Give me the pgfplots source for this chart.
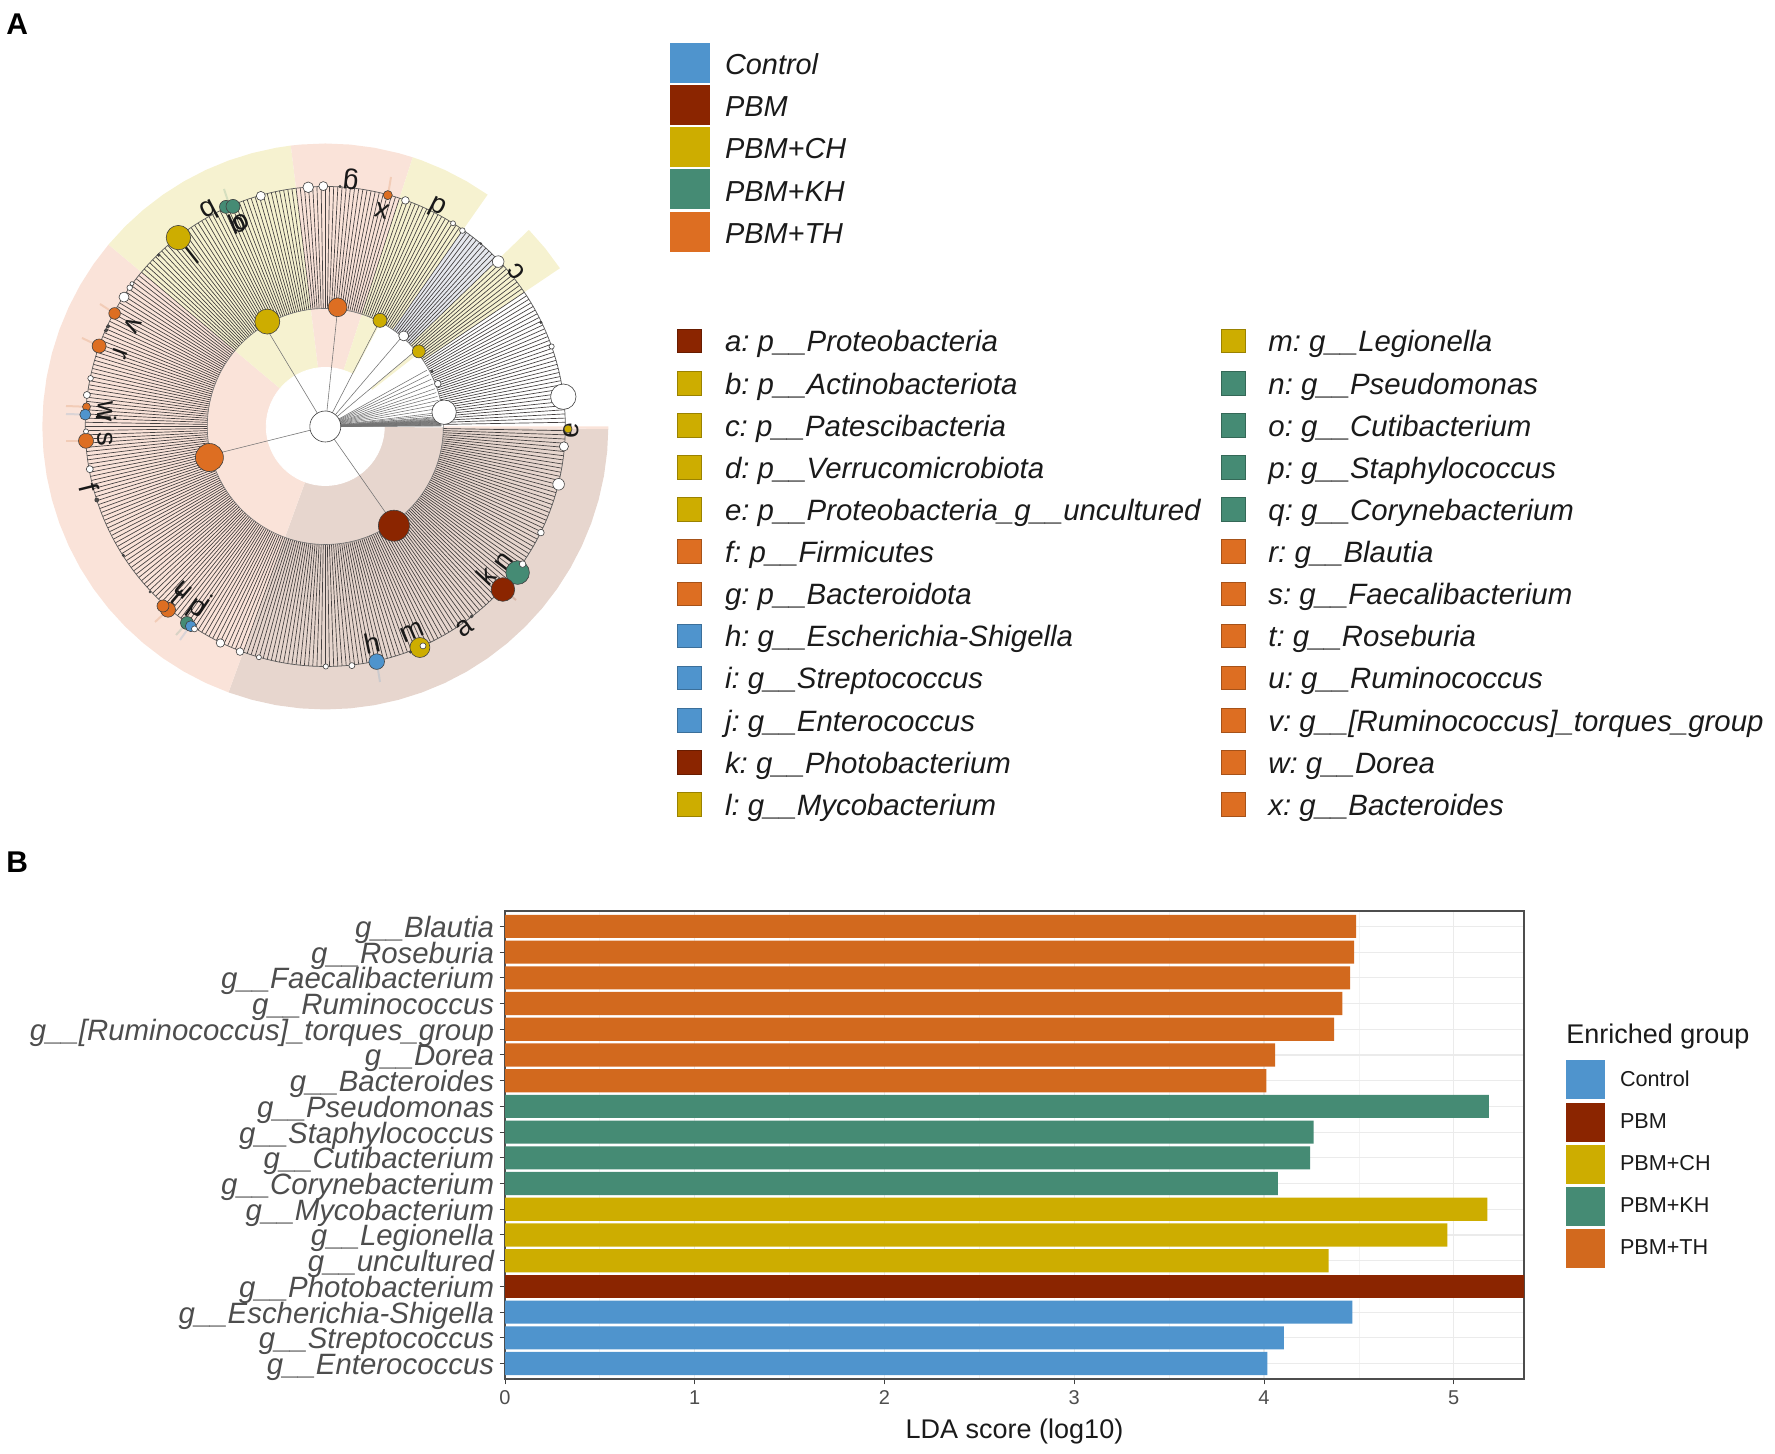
\documentclass[border=0pt]{standalone}
\usepackage{fontspec}
\setmainfont{Liberation Sans}
\usepackage{pgfplots}
\usepackage{pgfplotstable}
\usepgfplotslibrary{polar}
\pgfplotsset{compat=1.18}

\definecolor{cCtl}{HTML}{4F94CD}
\definecolor{cPbm}{HTML}{8B2500}
\definecolor{cCh}{HTML}{CDAD00}
\definecolor{cKh}{HTML}{458B74}
\definecolor{cTh}{HTML}{D2691E}
\definecolor{cOr}{HTML}{DD6E22}
\definecolor{wPbm}{HTML}{E7D6CE}
\definecolor{wTh}{HTML}{FAE3D9}
\definecolor{wCh}{HTML}{F6F2D0}
\definecolor{wGr}{HTML}{E6E8EE}
\definecolor{fanc}{HTML}{444040}
\definecolor{lab}{HTML}{4D4D4D}
\definecolor{gridc}{HTML}{EBEBEB}
\definecolor{txt}{HTML}{1A1A1A}

% cladogram nodes, reference pixels: x y radius
\pgfplotstableread{
x y r
86.5 406.8 4
99.1 346 7
114.6 313.4 5.8
168 609.7 7.5
163 606 6
86 440.8 7.5
209.4 457.5 14
337.6 307.3 9.4
387.8 195.1 4.5
}\ndTh
\pgfplotstableread{
x y r
178.4 237.6 12.2
267.3 321.6 12.5
380 320.4 7
418.8 351.4 6.5
419.9 647.5 10
568 429 4
}\ndCh
\pgfplotstableread{
x y r
226 206.9 6.5
233 206.4 7
517.6 572.6 11.8
187 623 6.5
}\ndKh
\pgfplotstableread{
x y r
376.7 661.6 7.8
190.8 626.2 5.5
85.3 414.6 5.5
}\ndCtl
\pgfplotstableread{
x y r
502.9 589.5 11.8
393.9 525.7 15.5
}\ndPbm
\pgfplotstableread{
x y r
325.3 426.5 15.5
403.7 335.9 5
437.8 383.7 3.3
444.1 412.2 12.2
260.8 195.9 4.5
308.2 187.3 5.3
323.3 186.1 4.5
405.4 200.4 3.8
453 223.3 2.5
462.4 230.6 2.8
498.2 261.6 5.8
551.6 346.5 2.6
563.3 396.7 12.7
563.9 446.4 4.6
558.6 484.3 5.8
540.9 532.6 3.3
522.6 564.1 3.3
423 645.9 3
351.9 665.6 3
325.8 666.5 2.6
258.9 657.3 2.5
240 651.6 3.8
220.4 643 4.2
194.5 628.9 3
89.8 469.2 3.5
86 431.4 2.5
86.9 395 3.5
90.6 378.3 2.8
124 297.1 5
129.7 287.7 2.8
132 283.6 2
}\ndWhite
\pgfplotstableread{
x y r
432 371.4 1.2
340 186.5 1.2
480.8 243.6 1
540.9 322.4 1.2
471.6 616.4 1.5
410.5 652 1.2
150 592 1
123.4 555.4 1.2
96.8 500 2
106 330.5 1.8
108.1 326.4 1.8
158.7 255 1.5
}\ndTiny

\pgfplotsset{
  wedge/.style={draw=none,fill=#1,data cs=polar},
  fan/.style={fanc,line width=0.34pt,data cs=polar},
  hub/.style={black!55,line width=0.28pt,data cs=polar},
  nodeset/.style={scatter,only marks,mark=*,
    scatter/use mapped color={draw=black!75,fill=#1,line width=0.3pt},
    visualization depends on={0.5*\thisrow{r} \as \ptr},
    scatter/@pre marker code/.append style={/tikz/mark size=\ptr}},
  big/.style={only marks,mark=square*,mark size=9.75pt,mark options={draw=#1,fill=#1}},
  small/.style={only marks,mark=square*,mark size=5.9pt,mark options={fill=#1,draw=#1!75!black,line width=0.3pt}},
  stub/.style={#1,opacity=0.18,line width=1pt},
  lg/.style={legend image code/.code={\fill[fill=#1] (0pt,-9.75pt) rectangle (19.5pt,9.75pt);}},
}
\tikzset{
  taxa/.style={anchor=base west,inner sep=0pt,text=txt,font=\fontsize{14.7}{17}\selectfont\itshape\frenchspacing},
  grp/.style={anchor=base west,inner sep=0pt,text=txt,font=\fontsize{14.45}{17}\selectfont\itshape},
  lett/.style={inner sep=0pt,text=black!90,font=\fontsize{14}{16}\selectfont},
}

\begin{document}
\begin{tikzpicture}
\useasboundingbox (0,0) rectangle (887.5pt,727pt);

% panel A shading, polar data about the cladogram centre
\begin{axis}[at={(0,0)},anchor=south west,x=0.5pt,y=0.5pt,
  xmin=-325.3,xmax=1449.7,ymin=-1027.5,ymax=426.5,hide axis,clip=false]
\addplot[wedge=wPbm] coordinates {(250,0)(250,283)(255,283)(260,283)(265,283)(270,283)(275,283)(280,283)(285,283)(290,283)(295,283)(300,283)(305,283)(310,283)(315,283)(320,283)(325,283)(330,283)(335,283)(340,283)(345,283)(350,283)(355,283)(359.5,283)} -- cycle;
\addplot[wedge=wTh] coordinates {(140,0)(140,283)(145,283)(150,283)(155,283)(160,283)(165,283)(170,283)(175,283)(180,283)(185,283)(190,283)(195,283)(200,283)(205,283)(210,283)(215,283)(220,283)(225,283)(230,283)(235,283)(240,283)(245,283)(250,283)} -- cycle;
\addplot[wedge=wCh] coordinates {(97,0)(97,283)(100,283)(105,283)(110,283)(115,283)(120,283)(125,283)(130,283)(135,283)(140,283)} -- cycle;
\addplot[wedge=wTh] coordinates {(72,0)(72,283)(75,283)(80,283)(85,283)(90,283)(95,283)(97,283)} -- cycle;
\addplot[wedge=wCh] coordinates {(55,118)(55,283)(60,283)(65,283)(70,283)(72,283)(72,0)(62,0)(62,118)} -- cycle;
\addplot[wedge=wCh] coordinates {(34,118)(34,283)(39,283)(44,283)(44,118)} -- cycle;
\addplot[wedge=wCh] coordinates {(38,59)(38,118)(40,118)(40,59)} -- cycle;
\addplot[wedge=wGr] coordinates {(44,118)(44,240)(50,240)(55,240)(55,118)(50,118)} -- cycle;
\addplot[wedge=wTh] coordinates {(359.5,118)(359.5,283)(360,283)(360,118)} -- cycle;
% hollow middle
\addplot[only marks,mark=*,mark size=29.5pt,mark options={fill=white,draw=white}] coordinates {(0,0)};
\end{axis}

% fan and spokes on their own axis: marks of an axis are drawn after its lines
\begin{axis}[at={(0,0)},anchor=south west,x=0.5pt,y=0.5pt,
  xmin=-325.3,xmax=1449.7,ymin=-1027.5,ymax=426.5,hide axis,clip=false]
\pgfplotsinvokeforeach{1,2,3,4,5,6,7,8,9,10,11,12,13,14,15,16,17,18,19,20,21,22,23,24,25,26,27,28,29,30,31,32,33,34,35,36,37,38,39,40,41,42,43,44,45,46,47,48,49,50,51,52,53,54,55,56,57,58,59,60,61,62,63,64,65,66,67,68,69,70,71,72,73,74,75,76,77,78,79,80,81,82,83,84,85,86,87,88,89,90,91,92,93,94,95,96,97,98,99,100,101,102,103,104,105,106,107,108,109,110,111,112,113,114,115,116,117,118,119,120,121,122,123,124,125,126,127,128,129,130,131,132,133,134,135,136,137,138,139,140,141,142,143,144,145,146,147,148,149,150,151,152,153,154,155,156,157,158,159,160,161,162,163,164,165,166,167,168,169,170,171,172,173,174,175,176,177,178,179,180,181,182,183,184,185,186,187,188,189,190,191,192,193,194,195,196,197,198,199,200,201,202,203,204,205,206,207,208,209,210,211,212,213,214,215,216,217,218,219,220,221,222,223,224,225,226,227,228,229,230,231,232,233,234,235,236,237,238,239,240,241,242,243,244,245,246,247,248,249,250,251,252,253,254,255,256,257,258,259,260,261,262,263,264,265,266,267,268,269,270,271,272,273,274,275,276,277,278,279,280,281,282,283,284,285,286,287,288,289,290,291,292,293,294,295,296,297,298,299,300,301,302,303,304,305,306,307,308,309,310,311,312,313,314,315,316,317,318,319,320,321,322,323,324,325,326,327,328,329,330,331,332,333,334,335,336,337,338,339,340,341,342,343,344,345,346,347,348,349,350,351,352,353,354,355,356,357,358,359}{
  \addplot[fan] coordinates {(#1,118)(#1,240)};
}
\pgfplotsinvokeforeach{0.2,0.4,0.6,0.8,1,1.2,1.4,1.6,1.8,2,2.2,2.4,2.6,2.8,3,3.3,3.6,4,4.5,5,6,7,9,11,13,15,17,19,21.5,24,26.5,29}{
  \addplot[hub] coordinates {(0,0)(#1,116)};
}
\pgfplotsinvokeforeach{121,84,62.7,49.5,40,-55,194}{
  \addplot[hub] coordinates {(0,0)(#1,118)};
}
% clade rings
\addplot[only marks,mark=o,mark size=59pt,mark options={draw=black!55,line width=0.3pt,fill=none}] coordinates {(0,0)};
\addplot[only marks,mark=o,mark size=120pt,mark options={draw=black!65,line width=0.35pt,fill=none}] coordinates {(0,0)};
\end{axis}

% panel A nodes and legends, reference pixel coordinates
\begin{axis}[at={(0,0)},anchor=south west,x=0.5pt,y=0.5pt,
  xmin=0,xmax=1775,ymin=0,ymax=1454,y dir=reverse,hide axis,clip=false]
\addplot[stub=cTh] coordinates {(99,346)(82,338)};
\addplot[stub=cTh] coordinates {(114.6,313.4)(100,304)};
\addplot[stub=cTh] coordinates {(86.5,406.8)(66,406)};
\addplot[stub=cCtl] coordinates {(85.3,414.6)(66,414)};
\addplot[stub=cTh] coordinates {(86,441)(66,441)};
\addplot[stub=cTh] coordinates {(168,610)(155,622)};
\addplot[stub=cKh] coordinates {(187,623)(176,635)};
\addplot[stub=cCtl] coordinates {(190,626)(180,640)};
\addplot[stub=cCtl] coordinates {(376.7,661.6)(380,682)};
\addplot[stub=cPbm] coordinates {(503,589.5)(516,600)};
\addplot[stub=cTh] coordinates {(388,195)(391,177)};
\addplot[stub=cKh] coordinates {(230,207)(224,189)};

\addplot[nodeset=cOr] table {\ndTh};
\addplot[nodeset=cCh] table {\ndCh};
\addplot[nodeset=cKh] table {\ndKh};
\addplot[nodeset=cCtl] table {\ndCtl};
\addplot[nodeset=cPbm] table {\ndPbm};
\addplot[nodeset=white] table {\ndWhite};
\addplot[nodeset=black!70] table {\ndTiny};

\node[lett,rotate=174] at (axis cs:351,179.6) {g};
\node[lett,rotate=165] at (axis cs:381.6,211) {x};
\node[lett,rotate=153] at (axis cs:437.4,208.2) {d};
\node[lett,rotate=129] at (axis cs:516.1,271.4) {c};
\node[lett,rotate=89] at (axis cs:571.2,430.5) {e};
\node[lett,rotate=53] at (axis cs:503.9,561.8) {n};
\node[lett,rotate=47] at (axis cs:485.5,575.3) {k};
\node[lett,rotate=35] at (axis cs:465.1,628.4) {a};
\node[lett,rotate=23] at (axis cs:412,631.6) {m};
\node[lett,rotate=12] at (axis cs:372,642.6) {h};
\node[lett,rotate=-34] at (axis cs:195.9,610) {p};
\node[lett,rotate=-34] at (axis cs:205,606) {j};
\node[lett,rotate=-41] at (axis cs:177,597) {t};
\node[lett,rotate=-41] at (axis cs:183,590.5) {u};
\node[lett,rotate=284] at (axis cs:89,487.6) {f};
\node[lett,rotate=273] at (axis cs:105.3,438.7) {s};
\node[lett,rotate=266] at (axis cs:105.3,411) {w};
\node[lett,rotate=268] at (axis cs:107,417.5) {i};
\node[lett,rotate=250] at (axis cs:120.4,353) {r};
\node[lett,rotate=242] at (axis cs:132.7,325.3) {v};
\node[lett,rotate=218] at (axis cs:191.8,255.1) {l};
\node[lett,rotate=208] at (axis cs:209,211) {b};
\node[lett,rotate=203] at (axis cs:237.5,222.4) {q};
\node[lett,rotate=203] at (axis cs:241.6,222.4) {o};

\addplot[big=cCtl] coordinates {(689.5,62.5)};
\addplot[big=cPbm] coordinates {(689.5,104.8)};
\addplot[big=cCh] coordinates {(689.5,147)};
\addplot[big=cKh] coordinates {(689.5,189.4)};
\addplot[big=cOr] coordinates {(689.5,231.6)};
\node[grp] at (axis cs:724.6,74.3) {Control};
\node[grp] at (axis cs:724.6,116.6) {PBM};
\node[grp] at (axis cs:724.6,158.8) {PBM+CH};
\node[grp] at (axis cs:724.6,201.2) {PBM+KH};
\node[grp] at (axis cs:724.6,243.4) {PBM+TH};

\addplot[small=cPbm] coordinates {(689.3,341)(689.3,762.3)};
\addplot[small=cCh] coordinates {(689.3,383.1)(689.3,425.3)(689.3,467.4)(689.3,509.5)(689.3,804.4)(1233,341)};
\addplot[small=cOr] coordinates {(689.3,551.6)(689.3,593.8)(1233,551.6)(1233,593.8)(1233,635.9)(1233,678)(1233,720.2)(1233,762.3)(1233,804.4)};
\addplot[small=cCtl] coordinates {(689.3,635.9)(689.3,678)(689.3,720.2)};
\addplot[small=cKh] coordinates {(1233,383.1)(1233,425.3)(1233,467.4)(1233,509.5)};

\node[taxa] at (axis cs:724.6,352) {a: p\_\_Proteobacteria};
\node[taxa] at (axis cs:724.6,394.1) {b: p\_\_Actinobacteriota};
\node[taxa] at (axis cs:724.6,436.3) {c: p\_\_Patescibacteria};
\node[taxa] at (axis cs:724.6,478.4) {d: p\_\_Verrucomicrobiota};
\node[taxa] at (axis cs:724.6,520.5) {e: p\_\_Proteobacteria\_g\_\_uncultured};
\node[taxa] at (axis cs:724.6,562.6) {f: p\_\_Firmicutes};
\node[taxa] at (axis cs:724.6,604.8) {g: p\_\_Bacteroidota};
\node[taxa] at (axis cs:724.6,646.9) {h: g\_\_Escherichia-Shigella};
\node[taxa] at (axis cs:724.6,689) {i: g\_\_Streptococcus};
\node[taxa] at (axis cs:724.6,731.2) {j: g\_\_Enterococcus};
\node[taxa] at (axis cs:724.6,773.3) {k: g\_\_Photobacterium};
\node[taxa] at (axis cs:724.6,815.4) {l: g\_\_Mycobacterium};
\node[taxa] at (axis cs:1268,352) {m: g\_\_Legionella};
\node[taxa] at (axis cs:1268,394.1) {n: g\_\_Pseudomonas};
\node[taxa] at (axis cs:1268,436.3) {o: g\_\_Cutibacterium};
\node[taxa] at (axis cs:1268,478.4) {p: g\_\_Staphylococcus};
\node[taxa] at (axis cs:1268,520.5) {q: g\_\_Corynebacterium};
\node[taxa] at (axis cs:1268,562.6) {r: g\_\_Blautia};
\node[taxa] at (axis cs:1268,604.8) {s: g\_\_Faecalibacterium};
\node[taxa] at (axis cs:1268,646.9) {t: g\_\_Roseburia};
\node[taxa] at (axis cs:1268,689) {u: g\_\_Ruminococcus};
\node[taxa] at (axis cs:1268,731.2) {v: g\_\_[Ruminococcus]\_torques\_group};
\node[taxa] at (axis cs:1268,773.3) {w: g\_\_Dorea};
\node[taxa] at (axis cs:1268,815.4) {x: g\_\_Bacteroides};

\node[anchor=base west,inner sep=0pt,font=\fontsize{15}{17}\selectfont\bfseries] at (axis cs:6,35) {A};
\node[anchor=base west,inner sep=0pt,font=\fontsize{15}{17}\selectfont\bfseries] at (axis cs:6,872) {B};
\node[anchor=base west,inner sep=0pt,text=txt,font=\fontsize{13.5}{16}\selectfont] at (axis cs:1566,1043) {Enriched group};
\end{axis}

% panel B
\begin{axis}[at={(252.5pt,37.5pt)},anchor=south west,scale only axis,
  width=509.5pt,height=234pt,
  xbar,bar shift=0pt,bar width=0.9,
  xmin=0,xmax=5.37,ymin=0.4,ymax=18.6,
  xtick={0,1,2,3,4,5},minor xtick={0.5,1.5,2.5,3.5,4.5},
  ytick={1,2,3,4,5,6,7,8,9,10,11,12,13,14,15,16,17,18},
  yticklabels={g\_\_Enterococcus,g\_\_Streptococcus,g\_\_Escherichia-Shigella,g\_\_Photobacterium,g\_\_uncultured,g\_\_Legionella,g\_\_Mycobacterium,g\_\_Corynebacterium,g\_\_Cutibacterium,g\_\_Staphylococcus,g\_\_Pseudomonas,g\_\_Bacteroides,g\_\_Dorea,g\_\_{[}Ruminococcus{]}\_torques\_group,g\_\_Ruminococcus,g\_\_Faecalibacterium,g\_\_Roseburia,g\_\_Blautia},
  tick align=outside,tick pos=left,
  major tick length=2.75pt,
  tick style={draw=black!75,line width=0.5pt},
  minor tick length=0pt,
  xmajorgrids,ymajorgrids,xminorgrids,
  major grid style={gridc,line width=0.6pt},
  minor grid style={gridc!60,line width=0.4pt},
  axis line style={draw=lab,line width=0.6pt},
  /pgf/number format/assume math mode=true,
  xticklabel style={text=lab,font=\fontsize{10}{12}\selectfont,inner sep=0pt,yshift=-3pt},
  yticklabel style={text=lab,font=\fontsize{14.7}{16}\selectfont\itshape,inner sep=0pt,xshift=-2.5pt,yshift=-1.7pt},
  xlabel={LDA score (log10)},
  xlabel style={text=txt,font=\fontsize{13.5}{16}\selectfont,inner sep=0pt,yshift=-6.5pt},
  legend cell align=left,
  legend style={at={(rel axis cs:1.0412,0.6808)},anchor=north west,draw=none,fill=none,inner sep=0pt,outer sep=0pt,
    row sep=1.6pt,nodes={inner sep=0pt,text=txt,font=\fontsize{10.8}{13}\selectfont},
    /tikz/column 1/.style={column sep=7.5pt}},
]
\addplot[lg=cCtl,draw=none,fill=cCtl] coordinates {(4.017,1)(4.104,2)(4.465,3)};
\addplot[lg=cPbm,draw=none,fill=cPbm] coordinates {(5.6,4)};
\addplot[lg=cCh,draw=none,fill=cCh] coordinates {(4.34,5)(4.966,6)(5.177,7)};
\addplot[lg=cKh,draw=none,fill=cKh] coordinates {(4.073,8)(4.243,9)(4.261,10)(5.185,11)};
\addplot[lg=cTh,draw=none,fill=cTh] coordinates {(4.012,12)(4.058,13)(4.369,14)(4.413,15)(4.454,16)(4.475,17)(4.485,18)};
\legend{Control,PBM,PBM+CH,PBM+KH,PBM+TH}
\end{axis}
\end{tikzpicture}
\end{document}
